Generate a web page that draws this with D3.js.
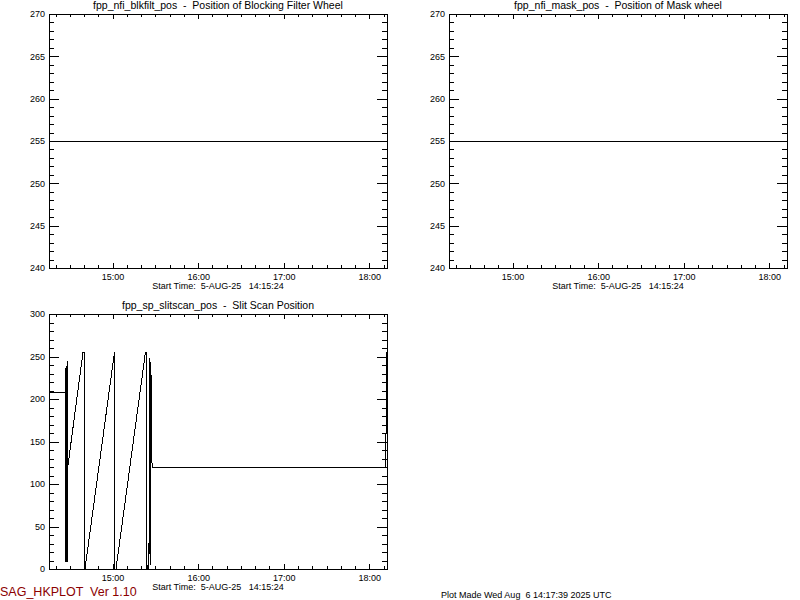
<!DOCTYPE html>
<html>
<head>
<meta charset="utf-8">
<script src="https://cdn.jsdelivr.net/npm/d3@7"></script>
<style>
  html, body { margin: 0; padding: 0; background: #fff; }
  svg { display: block; }
  text { font-family: "Liberation Sans", "DejaVu Sans", sans-serif; white-space: pre; fill: #000; }
</style>
</head>
<body>
<svg id="chart" width="800" height="600"></svg>
<script>
// ---------------- data ----------------
const plotDate = "2025-08-05";
const timeStart = "14:15:24";
const timeEnd = "18:12:24";

const titles = [
  "fpp_nfi_blkfilt_pos  -  Position of Blocking Filter Wheel",
  "fpp_nfi_mask_pos  -  Position of Mask wheel",
  "fpp_sp_slitscan_pos  -  Slit Scan Position"
];
const startLabel = "Start Time:  5-AUG-25   14:15:24";

// Panel 1: blocking filter wheel (constant)
const blkfiltTimes = ["14:15:24", "18:12:24"];
const blkfiltValues = [255, 255];
// Panel 2: mask wheel (constant)
const maskTimes = ["14:15:24", "18:12:24"];
const maskValues = [255, 255];
// Panel 3: slit scan position
const slitTimes = [
  "14:15:24", "14:26:58", "14:27:02", "14:27:15", "14:27:28", "14:27:40",
  "14:27:53", "14:28:05", "14:28:18", "14:28:31", "14:28:43", "14:39:14",
  "14:40:08", "14:40:12", "14:40:38", "15:01:19", "15:01:40", "15:02:22",
  "15:23:02", "15:23:53", "15:23:57", "15:24:47", "15:25:08", "15:25:29",
  "15:26:11", "15:26:32", "15:26:53", "15:27:14", "15:27:56", "18:11:36",
  "18:12:00"
];
const slitValues = [
  208, 208, 8, 236, 8, 239,
  8, 242, 8, 245, 122, 255,
  255, 0, 0, 255, 0, 0,
  255, 255, 0, 0, 30, 0,
  248, 5, 243, 130, 120, 120,
  255
];

const yTicks1 = [240, 245, 250, 255, 260, 265, 270];
const yTicks3 = [0, 50, 100, 150, 200, 250, 300];

const footerLeft = "SAG_HKPLOT  Ver 1.10";
const footerRight = "Plot Made Wed Aug  6 14:17:39 2025 UTC";

// ---------------- drawing ----------------
const svg = d3.select("#chart");
const parse = d3.timeParse("%Y-%m-%d %H:%M:%S");
const toDate = s => parse(plotDate + " " + s);

const panels = [
  { left: 49, right: 387, top: 14, bottom: 268, domain: [240, 270], ticks: yTicks1, minorStep: 1,
    times: blkfiltTimes, values: blkfiltValues, title: titles[0] },
  { left: 449, right: 787, top: 14, bottom: 268, domain: [240, 270], ticks: yTicks1, minorStep: 1,
    times: maskTimes, values: maskValues, title: titles[1] },
  { left: 49, right: 387, top: 314, bottom: 569, domain: [0, 300], ticks: yTicks3, minorStep: 10,
    times: slitTimes, values: slitValues, title: titles[2] }
];

panels.forEach(p => {
  const x = d3.scaleTime().domain([toDate(timeStart), toDate(timeEnd)]).range([p.left, p.right]);
  const y = d3.scaleLinear().domain(p.domain).range([p.bottom, p.top]);
  const g = svg.append("g");

  const hourTicks = d3.timeHour.range(toDate(timeStart), toDate(timeEnd));
  const minorX = d3.timeMinute.every(10).range(toDate(timeStart), toDate(timeEnd))
      .filter(d => d.getMinutes() !== 0);
  const minorY = d3.range(p.domain[0], p.domain[1] + 1e-9, p.minorStep)
      .filter(v => !p.ticks.includes(v));

  const fmt = d3.timeFormat("%H:%M");
  const setStyle = sel => {
    sel.select(".domain").remove();
    sel.selectAll("line").attr("stroke", "#000").attr("shape-rendering", "crispEdges");
  };

  // bottom axis (major with labels)
  g.append("g").attr("transform", `translate(0,${p.bottom})`)
    .call(d3.axisBottom(x).tickValues(hourTicks).tickFormat(fmt).tickSizeInner(-5).tickSizeOuter(0).tickPadding(6))
    .call(setStyle)
    .call(s => s.selectAll("text").attr("font-size", 9).attr("font-family", "Liberation Sans, sans-serif").attr("fill", "#000"));
  g.append("g").attr("transform", `translate(0,${p.bottom})`)
    .call(d3.axisBottom(x).tickValues(minorX).tickFormat("").tickSizeInner(-3).tickSizeOuter(0))
    .call(setStyle);
  // top axis
  g.append("g").attr("transform", `translate(0,${p.top})`)
    .call(d3.axisTop(x).tickValues(hourTicks).tickFormat("").tickSizeInner(-5).tickSizeOuter(0))
    .call(setStyle);
  g.append("g").attr("transform", `translate(0,${p.top})`)
    .call(d3.axisTop(x).tickValues(minorX).tickFormat("").tickSizeInner(-3).tickSizeOuter(0))
    .call(setStyle);
  // left axis
  g.append("g").attr("transform", `translate(${p.left},0)`)
    .call(d3.axisLeft(y).tickValues(p.ticks).tickFormat(d3.format("d")).tickSizeInner(-10).tickSizeOuter(0).tickPadding(4))
    .call(setStyle)
    .call(s => s.selectAll("text").attr("font-size", 9).attr("font-family", "Liberation Sans, sans-serif").attr("fill", "#000"));
  g.append("g").attr("transform", `translate(${p.left},0)`)
    .call(d3.axisLeft(y).tickValues(minorY).tickFormat("").tickSizeInner(-5).tickSizeOuter(0))
    .call(setStyle);
  // right axis
  g.append("g").attr("transform", `translate(${p.right},0)`)
    .call(d3.axisRight(y).tickValues(p.ticks).tickFormat("").tickSizeInner(-10).tickSizeOuter(0))
    .call(setStyle);
  g.append("g").attr("transform", `translate(${p.right},0)`)
    .call(d3.axisRight(y).tickValues(minorY).tickFormat("").tickSizeInner(-5).tickSizeOuter(0))
    .call(setStyle);

  // frame
  g.append("rect")
    .attr("x", p.left).attr("y", p.top)
    .attr("width", p.right - p.left).attr("height", p.bottom - p.top)
    .attr("fill", "none").attr("stroke", "#000").attr("shape-rendering", "crispEdges");

  // data line
  const pts = p.times.map((t, i) => ({ t: toDate(t), v: p.values[i] }));
  g.append("path")
    .datum(pts)
    .attr("fill", "none").attr("stroke", "#000").attr("stroke-width", 1)
    .attr("shape-rendering", "crispEdges")
    .attr("d", d3.line().x(d => x(d.t)).y(d => y(d.v)));

  // title
  g.append("text")
    .attr("x", (p.left + p.right) / 2).attr("y", p.top - 5)
    .attr("text-anchor", "middle").attr("font-size", 10.5)
    .text(p.title);
  // start time
  g.append("text")
    .attr("x", (p.left + p.right) / 2).attr("y", p.bottom + 21)
    .attr("text-anchor", "middle").attr("font-size", 9)
    .text(startLabel);
});

svg.append("text")
  .attr("x", 0).attr("y", 596)
  .attr("font-size", 12.5).style("fill", "#8b0000")
  .text(footerLeft);
svg.append("text")
  .attr("x", 441).attr("y", 598)
  .attr("font-size", 9)
  .text(footerRight);
</script>
</body>
</html>
